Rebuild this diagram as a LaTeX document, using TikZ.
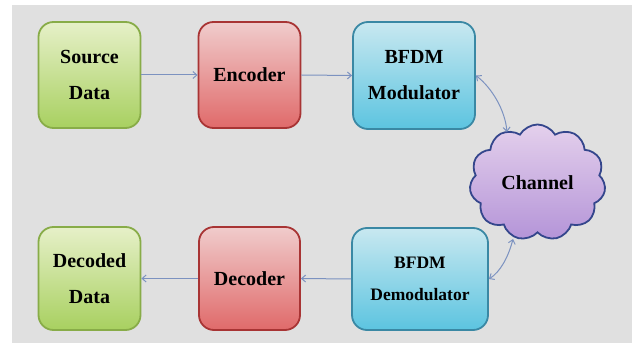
\documentclass[tikz,border=0pt]{standalone}
\usepackage{fontspec}
\setmainfont{Liberation Serif}
\usetikzlibrary{shapes.symbols,arrows.meta}
\definecolor{bggray}{HTML}{E0E0E0}
\definecolor{gtop}{HTML}{E6F0C8}
\definecolor{gbot}{HTML}{A8D060}
\definecolor{gline}{HTML}{88AC48}
\definecolor{rtop}{HTML}{F0CCCC}
\definecolor{rbot}{HTML}{E06A6A}
\definecolor{rline}{HTML}{A83434}
\definecolor{btop}{HTML}{C8E8F0}
\definecolor{bbot}{HTML}{5CC4E0}
\definecolor{bline}{HTML}{3A88A4}
\definecolor{ctop}{HTML}{E4D0EC}
\definecolor{cbot}{HTML}{B494D8}
\definecolor{cline}{HTML}{34468C}
\definecolor{arr}{HTML}{7C92C0}
\tikzset{
  blk/.style={rounded corners=15pt, line width=1.8pt, align=center,
    inner sep=0pt, font=\fontsize{20}{36}\selectfont\bfseries},
  greenbox/.style={blk, draw=gline, top color=gtop, bottom color=gbot},
  redbox/.style={blk, draw=rline, top color=rtop, bottom color=rbot},
  bluebox/.style={blk, draw=bline, top color=btop, bottom color=bbot},
  conn/.style={draw=arr, line width=1pt, -{Straight Barb[length=4pt,width=7pt]}},
  dconn/.style={draw=arr, line width=1pt, {Straight Barb[length=4pt,width=7pt]}-{Straight Barb[length=4pt,width=7pt]}}
}
\begin{document}
\begin{tikzpicture}[x=1pt,y=-1pt]
\useasboundingbox (0,0) rectangle (634,347);
\fill[bggray] (12,5) rectangle (632,343);
\node[greenbox, minimum width=102pt, minimum height=106pt] (src) at (89.5,75) {Source\\Data};
\node[redbox, minimum width=102pt, minimum height=106pt] (enc) at (249.5,75) {Encoder};
\node[bluebox, minimum width=122pt, minimum height=107pt] (mod) at (414,75.5) {BFDM\\Modulator};
\node[greenbox, minimum width=102pt, minimum height=103pt] (dec2) at (89.5,278.5) {Decoded\\Data};
\node[redbox, minimum width=101pt, minimum height=103pt] (dec) at (249.5,278.5) {Decoder};
\node[bluebox, minimum width=136pt, minimum height=102pt, font=\fontsize{17.5}{32}\selectfont\bfseries] (dem) at (420,279) {BFDM\\Demodulator};
\node[cloud, cloud puffs=11, cloud puff arc=120, aspect=1.15, draw=cline, line width=1.8pt,
  top color=ctop, bottom color=cbot, minimum width=136pt, minimum height=116pt, inner sep=0pt,
  font=\fontsize{20}{24}\selectfont\bfseries] (ch) at (537.5,182.5) {Channel};
\draw[conn] (src.east) -- (enc.west);
\draw[conn] (enc.east) -- (mod.west);
\draw[conn] (dem.west) -- (dec.west -| dec.east);
\draw[conn] (dec.west) -- (dec2.east);
\coordinate (ct) at (507,132);
\coordinate (cb) at (513,239);
\draw[dconn] (mod.east) .. controls (492,88) and (505,110) .. (ct);
\draw[dconn] (cb) .. controls (508,258) and (500,272) .. (dem.east);
\end{tikzpicture}
\end{document}
